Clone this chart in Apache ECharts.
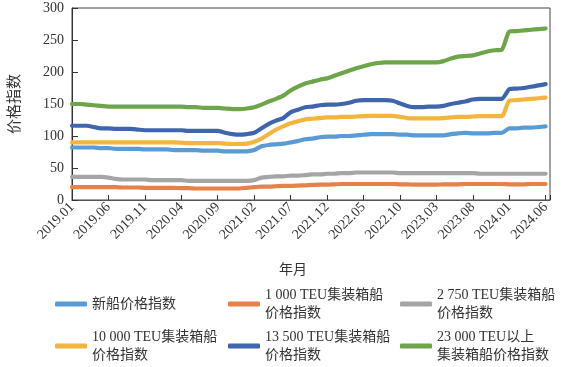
<!DOCTYPE html>
<html>
<head>
<meta charset="utf-8">
<script src="https://cdn.jsdelivr.net/npm/echarts@6/dist/echarts.min.js"></script>
<style>
html,body{margin:0;padding:0;background:#fff;}
#c{width:565px;height:367px;}
</style>
</head>
<body>
<div id="c"></div>
<script>
var tickLabels = ['2019.01','2019.06','2019.11','2020.04','2020.09','2021.02','2021.07','2021.12','2022.05','2022.10','2023.03','2023.08','2024.01','2024.06'];
var seriesNames = ['新船价格指数','1 000 TEU集装箱船\n价格指数','2 750 TEU集装箱船\n价格指数','10 000 TEU集装箱船\n价格指数','13 500 TEU集装箱船\n价格指数','23 000 TEU以上\n集装箱船价格指数'];
var colors = ['#5B9BD5','#E8804A','#A5A5A5','#F2B640','#3F65AE','#6EA54A'];

var newShip = [82,82,82,82,81,81,80,80,80,80,79,79,79,79,78,78,78,78,77,77,77,76,76,76,76,78,84,86,87,88,90,92,95,96,98,99,99,100,100,101,102,103,103,103,103,102,102,101,101,101,101,101,103,104,105,104,104,104,105,105,112,112,113,113,114,115];
var teu1000 = [20,20,20,20,20,20,20,19.5,19.5,19.5,19,19,19,19,19,18.5,18.5,18,18,18,18,18,18,18,19,20,21,21,21.5,22,22,22.5,23,23.5,24,24,24.5,25,25,25,25,25,25,25,25,24.5,24.5,24,24,24,24,24.5,24.5,24.5,25,25,25,25,25,25,24.5,24.5,24.5,25,25,25];
var teu2750 = [36,36,36,36,36,35,33,32,32,32,32,31,31,31,31,31,30,30,30,30,30,30,30,30,30,31,35,36,37,37,38,38,39,40,40,41,41,42,42,43,43,43,43,43,43,42,42,42,42,42,42,42,42,42,42,42,41,41,41,41,41,41,41,41,41,41];
var teu10000 = [90,90,90,90,90,90,90,90,90,90,90,90,90,90,90,89.5,89,89,89,89,89,88,87.5,87.5,88,91,96,103,110,115,120,123,126,127,128,129,129,130,130,130.5,131,131.5,131.5,131.5,131.5,130,128,127.5,127.5,127.5,127.5,128,129,130,130,130.5,131,131,131,131,155,156,157,158,159,160];
var teu13500 = [116,116,116,114,112,112,111,111,111,110,109,109,109,109,109,109,108,108,108,108,108,105,103,102,103,105,112,119,124,128,137,141,145,146,148,149,149,150,152,155,156,156,156,156,155,151,147,145,145,146,146,147,150,152,154,157,158,158,158,158,173,174,175,177,179,181];
var teu23000 = [150,150,149,148,147,146,146,146,146,146,146,146,146,146,146,146,145,145,144,144,144,143,142,142,143,145,149,154,158,163,171,177,182,185,188,190,194,198,202,206,209,212,214,215,215,215,215,215,215,215,215,217,221,224,225,226,229,232,234,235,263,264,265,266,267,268];

var allData = [newShip, teu1000, teu2750, teu10000, teu13500, teu23000];
var FONT = "'Liberation Serif','Noto Sans CJK SC',serif";

var chart = echarts.init(document.getElementById('c'), null, {renderer:'canvas'});

var series = allData.map(function(arr, k){
  return {
    name: seriesNames[k],
    type: 'line',
    symbol: 'none',
    smooth: 0.2,
    data: arr.map(function(v,i){ return [i, v]; }),
    lineStyle: {width: 4.2, color: colors[k], cap: 'round'},
    itemStyle: {color: colors[k]}
  };
});

var legendPos = [
  {left: 55, top: 295},
  {left: 228, top: 286},
  {left: 400, top: 286},
  {left: 55, top: 328},
  {left: 228, top: 328},
  {left: 400, top: 328}
];
var legends = seriesNames.map(function(n, k){
  return {
    data: [n],
    left: legendPos[k].left,
    top: legendPos[k].top,
    orient: 'horizontal',
    icon: 'roundRect',
    itemWidth: 32,
    itemHeight: 5,
    padding: 0,
    selectedMode: false,
    textStyle: {fontFamily: FONT, fontSize: 14, lineHeight: 18, color: '#333'}
  };
});

chart.setOption({
  animation: false,
  backgroundColor: '#fff',
  grid: {left: 66, right: 15, top: 8, bottom: 167, show: true, borderColor: '#444', borderWidth: 1},
  xAxis: {
    type: 'value',
    min: 0,
    max: 65.6,
    interval: 5,
    axisLine: {show: true, lineStyle: {color: '#555', width: 1}},
    axisTick: {show: true, inside: true, length: 5, lineStyle: {color: '#333'}},
    splitLine: {show: false},
    axisLabel: {
      rotate: 45,
      margin: 5,
      fontFamily: FONT,
      fontSize: 14,
      color: '#333',
      showMaxLabel: true,
      formatter: function(v){
        if (Math.abs(v - Math.round(v)) < 1e-6 && Math.round(v) % 5 === 0) {
          return tickLabels[Math.round(v)/5] || '';
        }
        return '';
      }
    }
  },
  yAxis: {
    type: 'value',
    min: 0,
    max: 300,
    interval: 50,
    name: '价格指数',
    nameLocation: 'middle',
    nameGap: 49,
    nameRotate: 90,
    nameTextStyle: {fontFamily: FONT, fontSize: 15, color: '#333'},
    axisLine: {show: true, lineStyle: {color: '#333', width: 1}},
    axisTick: {show: true, inside: true, length: 6, lineStyle: {color: '#333'}},
    splitLine: {show: false},
    axisLabel: {fontFamily: FONT, fontSize: 14, color: '#333', margin: 8}
  },
  legend: legends,
  graphic: [{
    type: 'text',
    left: 279,
    top: 262,
    style: {text: '年月', font: "14px 'Noto Sans CJK SC'", fill: '#333'}
  }],
  series: series
});
</script>
</body>
</html>
